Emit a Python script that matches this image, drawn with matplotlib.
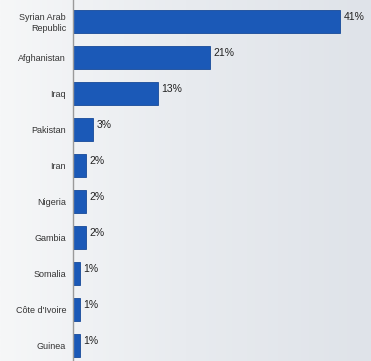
import matplotlib.pyplot as plt
import numpy as np

countries = [
    "Syrian Arab\nRepublic",
    "Afghanistan",
    "Iraq",
    "Pakistan",
    "Iran",
    "Nigeria",
    "Gambia",
    "Somalia",
    "Côte d'Ivoire",
    "Guinea",
]
shares = [41, 21, 13, 3, 2, 2, 2, 1, 1, 1]
value_labels = ["41%", "21%", "13%", "3%", "2%", "2%", "2%", "1%", "1%", "1%"]

plt.rcParams["font.family"] = ["Liberation Sans", "DejaVu Sans"]

fig = plt.figure(figsize=(3.71, 3.61), dpi=100)

# soft grey background, lighter on the left
bg = fig.add_axes([0, 0, 1, 1])
grad = np.linspace(0, 1, 256)[None, :]
bg.imshow(grad, aspect="auto", extent=[0, 1, 0, 1],
          cmap=plt.matplotlib.colors.LinearSegmentedColormap.from_list(
              "bg", ["#f6f7f8", "#e8ebef", "#dfe3e9"]))
bg.axis("off")

ax = fig.add_axes([73 / 371, 0, 298 / 371, 1])
ax.patch.set_alpha(0)
y = np.arange(len(countries))
ax.barh(y, shares, height=0.66, color="#1b59b7", edgecolor="#174a99", linewidth=0.6)

for yi, v, lab in zip(y, shares, value_labels):
    ax.text(v + 0.6, yi - 0.12, lab, va="center", ha="left",
            fontsize=7.5, color="#222222")

ax.set_xlim(0, 45.8)
ax.set_ylim((361 - 21.5) / 36, -21.5 / 36)
ax.set_yticks(y)
ax.set_yticklabels(countries, fontsize=6.5, color="#333333", linespacing=1.25)
ax.tick_params(axis="y", length=0, pad=5)
ax.set_xticks([])
for side in ["top", "right", "bottom"]:
    ax.spines[side].set_visible(False)
ax.spines["left"].set_color("#9a9a9a")
ax.spines["left"].set_linewidth(1.0)

fig.savefig("out.png", dpi=100)
